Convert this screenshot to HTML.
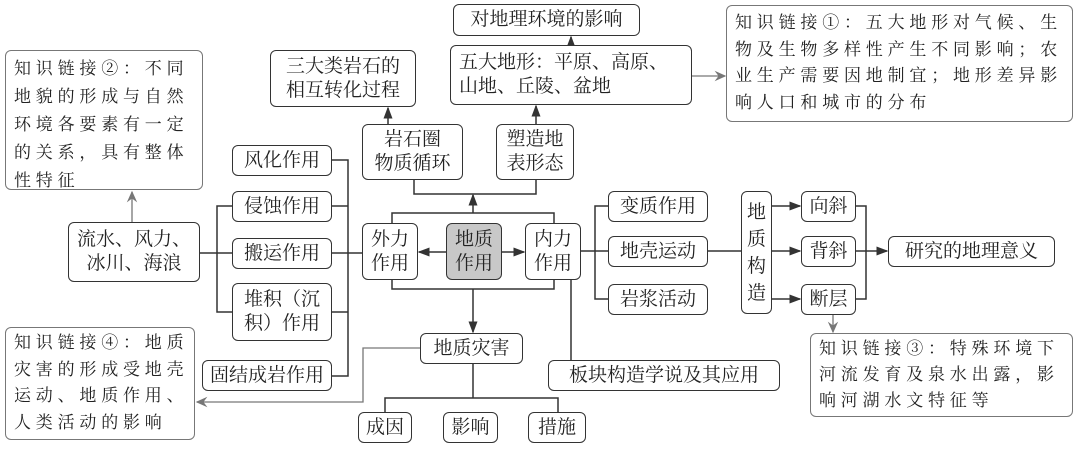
<!DOCTYPE html>
<html><head><meta charset="utf-8"><style>
body{margin:0;width:1080px;height:449px;background:#fff;position:relative;overflow:hidden;font-family:"Liberation Serif","Noto Serif CJK SC",serif;color:#222}
.b{position:absolute;box-sizing:border-box;border:1.6px solid #333;border-radius:6px;background:#fff;display:flex;align-items:center;justify-content:center;text-align:center;font-size:19px;line-height:24px;z-index:2;white-space:nowrap}
.k{position:absolute;box-sizing:border-box;border:1.3px solid #777;border-radius:6px;background:#fff;font-size:17px;line-height:28px;padding:4px 8px;letter-spacing:4.8px;z-index:2;white-space:nowrap;overflow:hidden}
svg{position:absolute;left:0;top:0;z-index:1}
</style></head><body>
<svg width="1080" height="449">
<defs>
<marker id="a" markerWidth="8" markerHeight="8" refX="7" refY="4" orient="auto"><path d="M0,1 L8,4 L0,7 Z" fill="#333"/></marker>
<marker id="g" markerWidth="9" markerHeight="9" refX="8" refY="4.5" orient="auto"><path d="M0,0.5 L9,4.5 L0,8.5 L3,4.5 Z" fill="#777"/></marker>
</defs>
<g stroke="#333" stroke-width="1.5" fill="none">
<line x1="571" y1="45" x2="571" y2="37" marker-end="url(#a)"/>
<line x1="388" y1="124" x2="388" y2="108" marker-end="url(#a)"/>
<line x1="536" y1="124" x2="536" y2="106" marker-end="url(#a)"/>
<polyline points="414,180 414,194 536,194 536,180"/>
<line x1="473" y1="213" x2="473" y2="195" marker-end="url(#a)"/>
<polyline points="392,223 392,213 554,213 554,223"/>
<polyline points="392,280 392,289 554,289 554,280"/>
<line x1="446" y1="252" x2="419" y2="252" marker-end="url(#a)"/>
<line x1="502" y1="252" x2="524" y2="252" marker-end="url(#a)"/>
<line x1="473" y1="289" x2="473" y2="332" marker-end="url(#a)"/>
<polyline points="332,160 348,160 348,376 332,376"/>
<line x1="332" y1="206" x2="348" y2="206"/>
<line x1="332" y1="253" x2="362" y2="253"/>
<line x1="332" y1="312" x2="348" y2="312"/>
<polyline points="232,206 217,206 217,312 232,312"/>
<line x1="200" y1="253" x2="232" y2="253"/>
<line x1="473" y1="363" x2="473" y2="398"/>
<polyline points="385,412 385,398 558,398 558,412"/>
<line x1="571" y1="280" x2="571" y2="360"/>
<line x1="581" y1="251" x2="608" y2="251"/>
<polyline points="608,206 595,206 595,299 608,299"/>
<line x1="708" y1="251" x2="741" y2="251"/>
<line x1="772" y1="206" x2="800" y2="206" marker-end="url(#a)"/>
<line x1="772" y1="251" x2="800" y2="251" marker-end="url(#a)"/>
<line x1="772" y1="299" x2="800" y2="299" marker-end="url(#a)"/>
<polyline points="856,206 866,206 866,299 856,299"/>
<line x1="856" y1="251" x2="887" y2="251" marker-end="url(#a)"/>
</g>
<g stroke="#777" stroke-width="1.3" fill="none">
<line x1="692" y1="76" x2="725" y2="76" marker-end="url(#g)"/>
<line x1="132" y1="222" x2="132" y2="192" marker-end="url(#g)"/>
<polyline points="420,348 363,348 363,402 197,402" marker-end="url(#g)"/>
<line x1="833" y1="314" x2="833" y2="332" marker-end="url(#g)"/>
</g>
</svg>
<div class="b" style="left:453px;top:4px;width:187px;height:32px">对地理环境的影响</div>
<div class="b" style="left:450px;top:45px;width:242px;height:60px;justify-content:flex-start;text-align:left;padding-left:8px">五大地形：平原、高原、<br>山地、丘陵、盆地</div>
<div class="k" style="left:726px;top:5px;width:347px;height:117px;line-height:26.5px">知识链接①：五大地形对气候、生<br>物及生物多样性产生不同影响；农<br>业生产需要因地制宜；地形差异影<br>响人口和城市的分布</div>
<div class="b" style="left:270px;top:50px;width:146px;height:57px">三大类岩石的<br>相互转化过程</div>
<div class="k" style="left:5px;top:50px;width:198px;height:140px">知识链接②：不同<br>地貌的形成与自然<br>环境各要素有一定<br>的关系，具有整体<br>性特征</div>
<div class="b" style="left:362px;top:124px;width:101px;height:56px">岩石圈<br>物质循环</div>
<div class="b" style="left:496px;top:124px;width:78px;height:56px">塑造地<br>表形态</div>
<div class="b" style="left:362px;top:223px;width:56px;height:57px">外力<br>作用</div>
<div class="b" style="left:446px;top:223px;width:56px;height:57px;background:#c8c8c8">地质<br>作用</div>
<div class="b" style="left:525px;top:223px;width:56px;height:57px">内力<br>作用</div>
<div class="b" style="left:232px;top:145px;width:100px;height:31px">风化作用</div>
<div class="b" style="left:232px;top:191px;width:100px;height:31px">侵蚀作用</div>
<div class="b" style="left:232px;top:238px;width:100px;height:31px">搬运作用</div>
<div class="b" style="left:232px;top:283px;width:100px;height:58px">堆积（沉<br>积）作用</div>
<div class="b" style="left:202px;top:360px;width:130px;height:31px">固结成岩作用</div>
<div class="b" style="left:68px;top:222px;width:132px;height:60px">流水、风力、<br>冰川、海浪</div>
<div class="b" style="left:420px;top:333px;width:103px;height:31px">地质灾害</div>
<div class="k" style="left:5px;top:327px;width:190px;height:113px;line-height:26.5px;padding-top:2px">知识链接④：地质<br>灾害的形成受地壳<br>运动、地质作用、<br>人类活动的影响</div>
<div class="b" style="left:358px;top:412px;width:54px;height:31px">成因</div>
<div class="b" style="left:443px;top:412px;width:55px;height:31px">影响</div>
<div class="b" style="left:528px;top:412px;width:58px;height:31px">措施</div>
<div class="b" style="left:548px;top:360px;width:232px;height:31px">板块构造学说及其应用</div>
<div class="b" style="left:608px;top:191px;width:100px;height:31px">变质作用</div>
<div class="b" style="left:608px;top:236px;width:100px;height:31px">地壳运动</div>
<div class="b" style="left:608px;top:284px;width:100px;height:31px">岩浆活动</div>
<div class="b" style="left:741px;top:191px;width:31px;height:123px;line-height:27px">地<br>质<br>构<br>造</div>
<div class="b" style="left:801px;top:191px;width:55px;height:31px">向斜</div>
<div class="b" style="left:801px;top:236px;width:55px;height:31px">背斜</div>
<div class="b" style="left:801px;top:284px;width:55px;height:31px">断层</div>
<div class="b" style="left:888px;top:236px;width:167px;height:31px">研究的地理意义</div>
<div class="k" style="left:810px;top:333px;width:263px;height:84px;line-height:26px;padding-top:2px">知识链接③：特殊环境下<br>河流发育及泉水出露，影<br>响河湖水文特征等</div>
</body></html>
